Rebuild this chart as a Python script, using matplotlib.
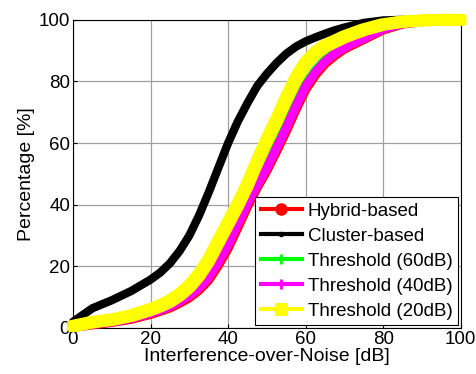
import matplotlib
matplotlib.use('Agg')
import matplotlib.pyplot as plt
import matplotlib.patheffects as pe
from matplotlib.lines import Line2D

plt.rcParams['font.family'] = ['Liberation Sans', 'DejaVu Sans']

# interference-over-noise axis [dB]
ion = [0, 5, 10, 15, 20, 22.5, 25, 27.5, 30, 32.5, 35, 37.5, 40, 42.5, 45, 47.5, 50, 52.5,
       55, 57.5, 60, 62.5, 65, 67.5, 70, 75, 80, 85, 90, 95, 100]

# CDF values [%]
hybrid = [0.2, 1.0, 1.8, 2.8, 4.4, 5.4, 6.5, 8.0, 9.8, 12.2, 15.5, 20.3, 25.8, 32.5, 39.3, 45.5,
          51.0, 57.3, 63.8, 70.8, 77.3, 82.0, 85.7, 88.3, 90.5, 93.6, 96.7, 98.6, 99.4, 99.8, 100]
cluster = [2.0, 6.4, 9.0, 12.0, 15.7, 18.0, 21.0, 25.0, 30.0, 36.5, 44.0, 52.0, 60.0, 67.0, 73.0, 78.5,
           82.5, 86.0, 89.0, 91.3, 93.0, 94.3, 95.5, 96.6, 97.5, 99.0, 99.8, 100, 100, 100, 100]
thr60 = [0.35, 1.3, 2.1, 3.3, 5.0, 6.1, 7.3, 8.9, 10.9, 13.5, 17.1, 22.2, 27.7, 34.7, 41.2, 47.3,
         52.8, 59.3, 65.8, 72.8, 79.2, 83.6, 87.0, 89.4, 91.3, 94.2, 97.1, 98.9, 99.5, 99.8, 100]
thr40 = [0.3, 1.2, 2.0, 3.1, 4.8, 5.8, 7.0, 8.6, 10.5, 13.0, 16.5, 21.5, 27.0, 34.0, 40.5, 46.5,
         52.0, 58.5, 65.0, 72.0, 78.5, 83.0, 86.5, 89.0, 91.0, 94.0, 97.0, 98.8, 99.5, 99.8, 100]
thr20 = [0.6, 1.9, 2.7, 4.0, 6.0, 7.2, 8.7, 10.8, 13.5, 17.2, 22.0, 28.0, 34.0, 40.0, 46.5, 54.0,
         61.0, 67.5, 74.5, 81.0, 86.0, 89.3, 91.5, 93.0, 94.5, 96.8, 98.5, 99.4, 99.8, 100, 100]

labels = ['Hybrid-based', 'Cluster-based', 'Threshold (60dB)', 'Threshold (40dB)', 'Threshold (20dB)']
colors = ['#ff0000', '#000000', '#00ff00', '#ff00ff', '#ffff00']
markers = ['o', '.', '+', '+', 's']
widths = [6.5, 6, 6.5, 6.5, 4.5]

fig = plt.figure(figsize=(4.77, 3.74), dpi=100)
ax = fig.add_axes([0.153, 0.123, 0.813, 0.824])

series = [hybrid, cluster, thr60, thr40, thr20]
for i, (y, c, w) in enumerate(zip(series, colors, widths)):
    line, = ax.plot(ion, y, color=c, lw=w, solid_joinstyle='round',
                    solid_capstyle='round', clip_on=False, zorder=3)
    if markers[i] == 's':
        # square markers packed densely -> square "brush"
        a = 2.0
        effects = [pe.Stroke(offset=(dx, dy), linewidth=w, foreground=c)
                   for dx in (-a, 0, a) for dy in (-a, 0, a)]
        line.set_path_effects(effects)

ax.set_xlim(0, 100)
ax.set_ylim(0, 100)
ax.set_xticks(range(0, 101, 20))
ax.set_yticks(range(0, 101, 20))
ax.grid(True, color='#a0a0a0', lw=0.9)
ax.set_axisbelow(True)
ax.tick_params(direction='in', length=3, labelsize=13.5, pad=2)
for s in ax.spines.values():
    s.set_linewidth(0.8)

ax.set_xlabel('Interference-over-Noise [dB]', fontsize=14, labelpad=0)
ax.set_ylabel('Percentage [%]', fontsize=14, labelpad=3)

handles = [Line2D([0], [0], color=c, lw=3, marker=m, markersize=7 if m != '.' else 4,
                  markeredgewidth=2)
           for c, m in zip(colors, markers)]
leg = ax.legend(handles, labels, loc='lower right', bbox_to_anchor=(1.0, 0.0),
                borderaxespad=0.15, fontsize=13.5, fancybox=False, framealpha=1,
                edgecolor='black', handlelength=2.2, handletextpad=0.3,
                labelspacing=0.42, borderpad=0.3)
leg.get_frame().set_linewidth(0.8)
leg.set_zorder(5)

fig.savefig('out.png', dpi=100)
